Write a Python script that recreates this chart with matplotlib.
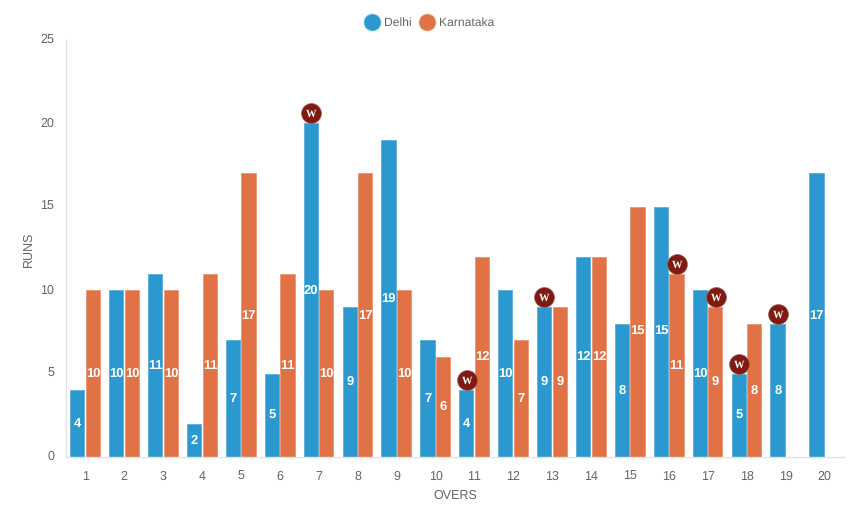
import numpy as np
import matplotlib
matplotlib.use("Agg")
import matplotlib.pyplot as plt
from matplotlib.lines import Line2D
from matplotlib.transforms import ScaledTranslation

plt.rcParams['font.family'] = ['Liberation Sans', 'DejaVu Sans']
plt.rcParams['text.kerning_factor'] = 6
plt.rcParams['text.hinting'] = 'no_hinting'

overs = list(range(1, 21))
delhi = [4, 10, 11, 2, 7, 5, 20, 9, 19, 7, 4, 10, 9, 12, 8, 15, 10, 5, 8, 17]
karnataka = [10, 10, 10, 11, 17, 11, 10, 17, 10, 6, 12, 7, 9, 12, 15, 11, 9, 8, 0, 0]
delhi_wickets = [7, 11, 13, 18, 19]
karnataka_wickets = [16, 17]
y_ticks = [0, 5, 10, 15, 20, 25]

BLUE = '#2b99d0'
ORANGE = '#e07246'
WICKET = '#7e1a10'
GREY = '#666666'

W, H = 861, 516
fig = plt.figure(figsize=(W / 100, H / 100), dpi=100)
ax = fig.add_axes([66 / W, 1 - 457 / H, (844 - 66) / W, (457 - 40) / H])

x = np.arange(len(overs))
offset = 0.2
width = 0.365

ax.bar(x - offset - 0.008, delhi, width, color=BLUE, edgecolor='#62b3dc', linewidth=0.7, label='Delhi')
ax.bar(x + offset - 0.008, karnataka, width, color=ORANGE, edgecolor='#eb9a7a', linewidth=0.7, label='Karnataka')

# value labels in the middle of each bar
for xs, vals in [(x - offset, delhi), (x + offset, karnataka)]:
    for xi, v in zip(xs, vals):
        if v > 0:
            ax.text(xi, v / 2, str(v), ha='center', va='center', color='white',
                    fontsize=9.4, fontweight='bold', zorder=4)

# wicket markers sit 10 px above the bar top
lift = ax.transData + ScaledTranslation(0, 10 / 100, fig.dpi_scale_trans)
wx = [o - 1 - offset for o in delhi_wickets] + [o - 1 + offset for o in karnataka_wickets]
wy = [delhi[o - 1] for o in delhi_wickets] + [karnataka[o - 1] for o in karnataka_wickets]
ax.scatter(wx, wy, s=205, color=WICKET, edgecolor='#a5655f', linewidth=0.5, transform=lift,
           zorder=5, clip_on=False)
for xi, yi in zip(wx, wy):
    ax.text(xi, yi, 'W', ha='center', va='center_baseline', color='white', fontsize=7.6,
            fontweight='bold', family='Liberation Serif', transform=lift, zorder=6)

ax.set_xlim(-0.5, 19.5)
ax.set_ylim(0, 25)
ax.set_xticks(x)
ax.set_xticklabels(overs)
ax.set_yticks(y_ticks)
ax.tick_params(axis='both', length=0, labelsize=9, labelcolor=GREY)
ax.tick_params(axis='x', pad=10)
ax.tick_params(axis='y', pad=8.5)

# y tick labels sit a little above their gridline position
up = ScaledTranslation(0, 1.5 / 100, fig.dpi_scale_trans)
for lab in ax.get_yticklabels():
    lab.set_transform(lab.get_transform() + up)

for side in ['top', 'right']:
    ax.spines[side].set_visible(False)
for side in ['left', 'bottom']:
    ax.spines[side].set_color('#e3e3e3')
    ax.spines[side].set_linewidth(1)

fig.text(455 / W, 1 - 496 / H, 'OVERS', ha='center', va='center', fontsize=9, color=GREY)
fig.text(28.5 / W, 1 - 249 / H, 'RUNS', ha='center', va='center', rotation=90, fontsize=9, color=GREY)

handles = [
    Line2D([], [], marker='o', linestyle='none', markersize=12.2, color=BLUE, markeredgecolor='#8cc6e4', markeredgewidth=0.5),
    Line2D([], [], marker='o', linestyle='none', markersize=12.2, color=ORANGE, markeredgecolor='#f0b49c', markeredgewidth=0.5),
]
fig.legend(handles, ['Delhi', 'Karnataka'], ncol=2, loc='center', bbox_to_anchor=(429.5 / W, 1 - 23 / H),
           frameon=False, fontsize=8.7, labelcolor=GREY, handletextpad=0.38, columnspacing=0.72,
           handlelength=1.2, borderpad=0)

fig.savefig('out.png', dpi=100, facecolor='white')
